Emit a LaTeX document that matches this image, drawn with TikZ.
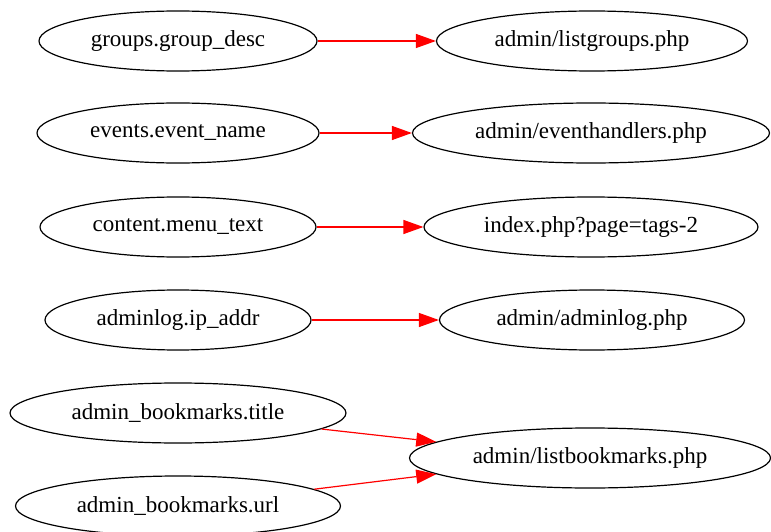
\documentclass[tikz,border=0pt]{standalone}
\usepackage{fontspec}
\setmainfont{Liberation Serif}
\usetikzlibrary{shapes.geometric,arrows.meta}

\begin{document}
\begin{tikzpicture}[x=1pt, y=-1pt,
  col/.style={draw, ellipse, line width=1.2pt, inner sep=0pt,
              minimum height=60pt, font=\fontsize{23}{27}\selectfont},
  link/.style={draw=red, line width=1.2pt,
               -{Triangle[length=20pt, width=14pt]}}]
  \useasboundingbox (0,0) rectangle (771,532);
  \node[col, minimum width=278pt] (grpdesc) at (178,41) {groups.group\_desc};
  \node[col, minimum width=311pt] (listgrp) at (592,41) {admin/listgroups.php};
  \node[col, minimum width=282pt] (evname) at (178,133) {events.event\_name};
  \node[col, minimum width=357pt] (evhand) at (591,133) {admin/eventhandlers.php};
  \node[col, minimum width=276pt] (menutext) at (178,227) {content.menu\_text};
  \node[col, minimum width=334pt] (tags) at (591,227) {index.php?page=tags-2};
  \node[col, minimum width=266pt] (ipaddr) at (178,320) {adminlog.ip\_addr};
  \node[col, minimum width=305pt] (adminlog) at (592,320) {admin/adminlog.php};
  \node[col, minimum width=336pt] (bmtitle) at (178,413) {admin\_bookmarks.title};
  \node[col, minimum width=325pt] (bmurl) at (178,506) {admin\_bookmarks.url};
  \node[col, minimum width=361pt] (listbm) at (590,458) {admin/listbookmarks.php};
  \draw[link] (grpdesc) -- (listgrp);
  \draw[link] (evname) -- (evhand);
  \draw[link] (menutext) -- (tags);
  \draw[link] (ipaddr) -- (adminlog);
  \draw[link] (bmtitle) -- (listbm.174);
  \draw[link] (bmurl) -- (listbm.186);
\end{tikzpicture}
\end{document}
